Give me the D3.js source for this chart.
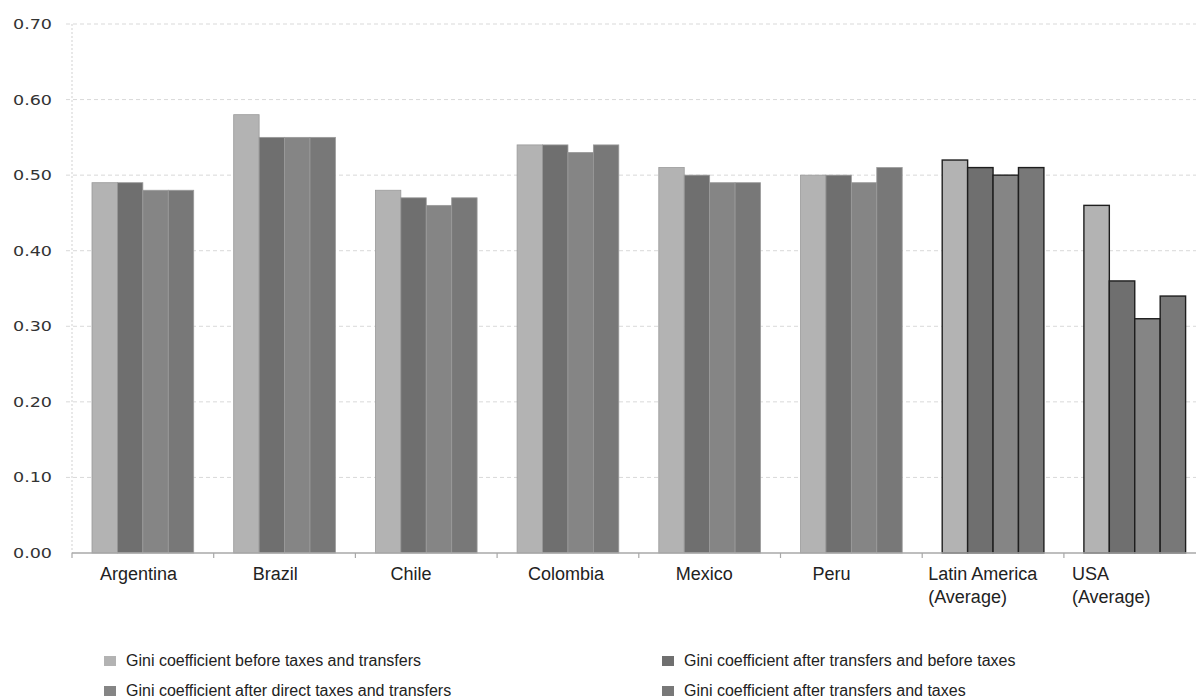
<!DOCTYPE html>
<html>
<head>
<meta charset="utf-8">
<script src="https://cdn.jsdelivr.net/npm/d3@7"></script>
<style>
  html, body { margin: 0; padding: 0; background: #fff; }
  svg { display: block; }
</style>
</head>
<body>
<div id="chart"></div>
<script>
// Gini coefficients by country, before/after taxes and transfers
const categories = ["Argentina", "Brazil", "Chile", "Colombia", "Mexico", "Peru", "Latin America\n(Average)", "USA\n(Average)"];
const seriesNames = [
  "Gini coefficient before taxes and transfers",
  "Gini coefficient after transfers and before taxes",
  "Gini coefficient after direct taxes and transfers",
  "Gini coefficient after transfers and taxes"
];
const beforeTaxesTransfers      = [0.49, 0.58, 0.48, 0.54, 0.51, 0.50, 0.52, 0.46];
const afterTransfersBeforeTaxes = [0.49, 0.55, 0.47, 0.54, 0.50, 0.50, 0.51, 0.36];
const afterDirectTaxesTransfers = [0.48, 0.55, 0.46, 0.53, 0.49, 0.49, 0.50, 0.31];
const afterTransfersTaxes       = [0.48, 0.55, 0.47, 0.54, 0.49, 0.51, 0.51, 0.34];
const yTicks = [0, 0.1, 0.2, 0.3, 0.4, 0.5, 0.6, 0.7];

const seriesValues = [beforeTaxesTransfers, afterTransfersBeforeTaxes, afterDirectTaxesTransfers, afterTransfersTaxes];
const colors = ["#b3b3b3", "#6f6f6f", "#858585", "#787878"];
// averages are drawn with a dark outline
const outlined = ["Latin America\n(Average)", "USA\n(Average)"];
// horizontal nudge of each category label from its band start
const labelShift = [28, 39, 35, 31, 37, 32, 6, 8];

const W = 1196, H = 698;
const plotLeft = 72, plotBottom = 553, plotTop = 24, band = 141.7;

const svg = d3.select("#chart").append("svg")
  .attr("width", W).attr("height", H);

const x0 = d3.scaleBand().domain(categories)
  .range([plotLeft, plotLeft + band * categories.length]).padding(0);
const x1 = d3.scaleBand().domain(d3.range(seriesValues.length))
  .range([20, x0.bandwidth() - 20]).padding(0);
const y = d3.scaleLinear().domain([0, 0.7]).range([plotBottom, plotTop]);

// gridlines
svg.append("g").selectAll("line").data(yTicks.filter(d => d > 0)).join("line")
  .attr("x1", plotLeft - 6).attr("x2", W)
  .attr("y1", d => y(d)).attr("y2", d => y(d))
  .attr("stroke", "#d9d9d9").attr("stroke-width", 1)
  .attr("stroke-dasharray", "4,3");

// dotted vertical axis line
svg.append("line")
  .attr("x1", plotLeft).attr("x2", plotLeft)
  .attr("y1", plotTop).attr("y2", plotBottom)
  .attr("stroke", "#d9d9d9").attr("stroke-width", 1.2)
  .attr("stroke-dasharray", "2,2");

// y tick labels
svg.append("g").selectAll("text").data(yTicks).join("text")
  .attr("x", 13).attr("y", d => y(d) + 5)
  .attr("textLength", 39).attr("lengthAdjust", "spacingAndGlyphs")
  .attr("font-family", "DejaVu Sans, Verdana, sans-serif")
  .attr("font-size", 14)
  .attr("fill", "#333")
  .text(d => d.toFixed(2));

// bars
const groups = svg.append("g").selectAll("g").data(categories).join("g")
  .attr("transform", d => `translate(${x0(d)},0)`);

groups.selectAll("rect")
  .data((c, ci) => seriesValues.map((vals, si) => ({ c, si, v: vals[ci] })))
  .join("rect")
  .attr("x", d => x1(d.si))
  .attr("y", d => y(d.v))
  .attr("width", x1.bandwidth())
  .attr("height", d => y(0) - y(d.v))
  .attr("fill", d => colors[d.si])
  .attr("stroke", d => outlined.includes(d.c) ? "#1e1e1e" : "#9a9a9a")
  .attr("stroke-width", d => outlined.includes(d.c) ? 1.4 : 0.8);

// x axis line with tick marks
svg.append("line")
  .attr("x1", plotLeft).attr("x2", W)
  .attr("y1", plotBottom).attr("y2", plotBottom)
  .attr("stroke", "#a8a8a8").attr("stroke-width", 1.5);

svg.append("g").selectAll("line").data(categories).join("line")
  .attr("x1", d => x0(d)).attr("x2", d => x0(d))
  .attr("y1", plotBottom).attr("y2", plotBottom + 5)
  .attr("stroke", "#a8a8a8").attr("stroke-width", 1.2);

// category labels
svg.append("g").selectAll("text").data(categories).join("text")
  .attr("x", (d, i) => x0(d) + labelShift[i])
  .attr("y", 580)
  .attr("font-family", "Liberation Sans, Arial, sans-serif")
  .attr("font-size", 18)
  .attr("fill", "#222")
  .each(function(d) {
    const t = d3.select(this);
    const x = t.attr("x");
    d.split("\n").forEach((line, i) => {
      t.append("tspan").attr("x", x).attr("dy", i === 0 ? 0 : 23).text(line);
    });
  });

// legend: two columns, two rows
const legendPos = [
  { x: 104, y: 656 },
  { x: 662, y: 656 },
  { x: 104, y: 686 },
  { x: 662, y: 686 }
];
const legend = svg.append("g").selectAll("g").data(seriesNames).join("g")
  .attr("transform", (d, i) => `translate(${legendPos[i].x},${legendPos[i].y})`);
legend.append("rect")
  .attr("width", 12).attr("height", 10)
  .attr("fill", (d, i) => colors[i]);
legend.append("text")
  .attr("x", 22).attr("y", 9.5)
  .attr("font-family", "Liberation Sans, Arial, sans-serif")
  .attr("font-size", 16)
  .attr("fill", "#222")
  .text(d => d);
</script>
</body>
</html>
